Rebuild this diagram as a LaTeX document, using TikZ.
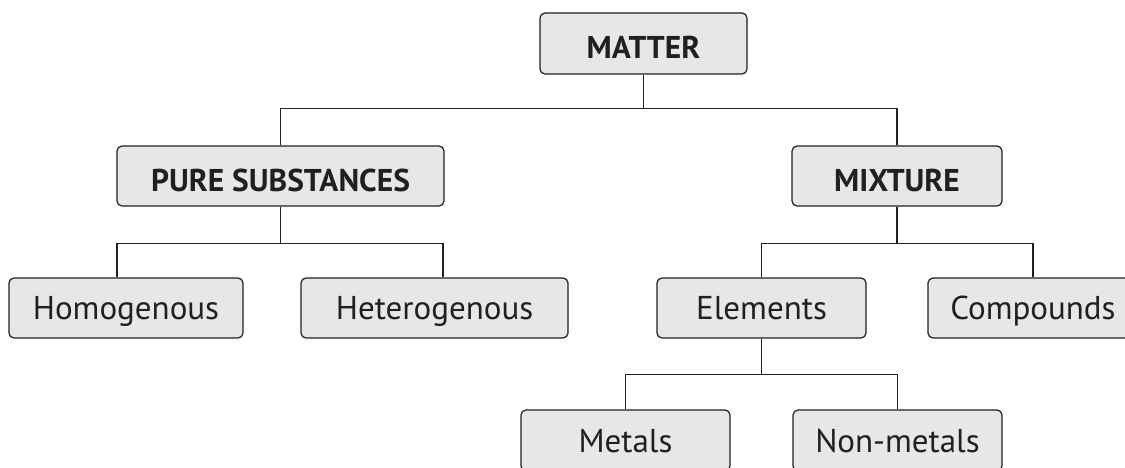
\documentclass[tikz,border=0pt]{standalone}
\usepackage{fontspec}
\setmainfont{PT Sans}
\definecolor{boxfill}{HTML}{E6E7E8}
\definecolor{ink}{HTML}{231F20}
\begin{document}
\begin{tikzpicture}[x=1pt,y=-1pt,
  every node/.style={text=ink},
  box/.style={draw=ink, fill=boxfill, line width=1.2pt, rounded corners=5pt,
    font=\fontsize{33}{38}\selectfont,
    inner sep=0pt, minimum height=60pt, text height=23pt, text depth=0pt},
  bbox/.style={box, font=\fontsize{31.5}{36}\selectfont\bfseries, text height=30pt},
  conn/.style={draw=ink, line width=1.2pt}]
\clip (0,0) rectangle (1125,467);
\fill[white] (0,0) rectangle (1125,467);
\node[bbox, minimum width=207pt, minimum height=61pt] (matter) at (643.5,43.5) {MATTER};
\node[bbox, minimum width=327pt] (pure) at (280.5,176) {PURE SUBSTANCES};
\node[bbox, minimum width=210pt] (mixture) at (897,176) {MIXTURE};
\node[box, minimum width=234pt] (homo) at (126,308) {Homogenous};
\node[box, minimum width=267pt] (hetero) at (434.5,308) {Heterogenous};
\node[box, minimum width=209pt] (elements) at (761.5,308) {Elements};
\node[box, minimum width=210pt] (compounds) at (1033,308) {Compounds};
\node[box, minimum width=209pt, minimum height=61pt] (metals) at (625.5,440.5) {Metals};
\node[box, minimum width=209pt, minimum height=61pt] (nonmetals) at (897.5,440.5) {Non-metals};
\draw[conn] (matter.south) -- ++(0,34) coordinate (j1);
\draw[conn] (pure.north) |- (j1) -| (mixture.north);
\draw[conn] (pure.south) -- ++(0,37) coordinate (j2);
\draw[conn] ([xshift=-9pt]homo.north) |- (j2) -| ([xshift=8.5pt]hetero.north);
\draw[conn] (mixture.south) -- ++(0,37) coordinate (j3);
\draw[conn] (elements.north) |- (j3) -| (compounds.north);
\draw[conn] (elements.south) -- ++(0,36) coordinate (j4);
\draw[conn] (metals.north) |- (j4) -| (nonmetals.north);
\end{tikzpicture}
\end{document}
